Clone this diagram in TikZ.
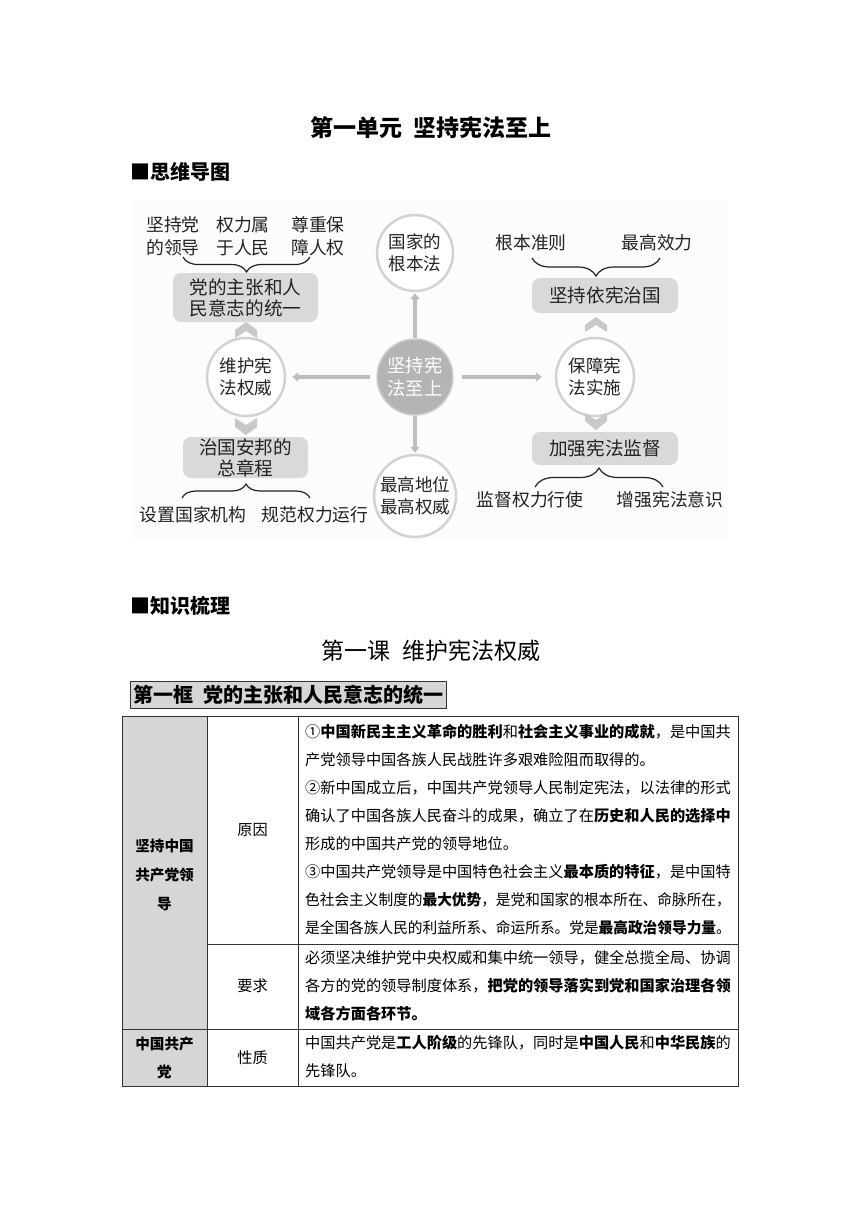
\documentclass[tikz,border=0pt]{standalone}
\usepackage{fontspec}
\newfontfamily\cjk{Noto Sans CJK SC}
\usetikzlibrary{arrows.meta,decorations.pathreplacing}
\definecolor{boxgray}{HTML}{D9D9D9}
\definecolor{chevgray}{HTML}{C8C8C8}
\definecolor{ringgray}{HTML}{D2D2D2}
\definecolor{arrowgray}{HTML}{BDBDBD}
\definecolor{centergray}{HTML}{B4B4B4}
\definecolor{centerring}{HTML}{CFCFCF}
\definecolor{cellgray}{HTML}{D6D6D6}
\definecolor{textdark}{HTML}{222222}
\definecolor{rulegray}{HTML}{333333}
\definecolor{mapbg}{HTML}{FCFCFC}
\newcommand\kbf[1]{{\bfseries #1}}
\begin{document}
\begin{tikzpicture}[x=1pt,y=-1pt,font=\cjk,
  mtext/.style={text=textdark,font=\cjk\fontsize{17.8}{23}\selectfont,align=center,inner sep=0pt},
  mbox/.style={fill=boxgray,rounded corners=8pt,text=textdark,font=\cjk\fontsize{18.6}{21}\selectfont,align=center,inner sep=0pt},
  ring/.style={circle,draw=ringgray,line width=2.5pt,fill=white,inner sep=0pt,text=textdark,font=\cjk\fontsize{17.5}{21.5}\selectfont,align=center},
  garrow/.style={draw=arrowgray,line width=3.5pt,-{Triangle[width=9pt,length=6pt]}},
  chev/.style={fill=chevgray},
  brc/.style={decorate,decoration={brace,amplitude=#1},line width=1.2pt,draw=textdark},
  brcm/.style={decorate,decoration={brace,mirror,amplitude=#1},line width=1.2pt,draw=textdark},
  cell/.style={text=black,font=\cjk\fontsize{15.2}{28}\selectfont,inner sep=0pt},
  cline/.style={cell,anchor=west},
  lbl/.style={text=black,font=\cjk\bfseries\fontsize{14.6}{29}\selectfont,align=center,inner sep=0pt},
  grid/.style={draw=rulegray,line width=1pt}
]
\useasboundingbox (0,0) rectangle (860,1216);
\fill[white] (0,0) rectangle (860,1216);

% headings
\node[font=\cjk\bfseries\fontsize{23}{23}\selectfont,inner sep=0pt] (title) at (431,128) {第一单元\hspace{0.5em}坚持宪法至上};
\node[font=\cjk\bfseries\fontsize{20}{20}\selectfont,anchor=west,inner sep=0pt] (h1) at (130,172) {■思维导图};

% mind map background
\fill[mapbg] (130,200) rectangle (728,540);

% circles
\node[circle,fill=centergray,draw=centerring,line width=1.5pt,minimum size=76pt,inner sep=0pt,text=white,font=\cjk\fontsize{18.3}{23}\selectfont,align=center] (c) at (415,377) {坚持宪\\法至上};
\node[ring,minimum size=76pt] (top) at (415,253) {国家的\\根本法};
\node[ring,minimum size=78pt] (left) at (246,377) {维护宪\\法权威};
\node[ring,minimum size=78pt] (right) at (595,377) {保障宪\\法实施};
\node[ring,minimum size=82pt] (bot) at (415,496) {最高地位\\最高权威};

% arrows
\draw[garrow,shorten >=1pt] (c) -- (top);
\draw[garrow,shorten >=1pt] (c) -- (bot);
\draw[garrow,shorten <=6pt,shorten >=6pt] (c) -- (left);
\draw[garrow,shorten <=8pt,shorten >=13pt] (c) -- (right);

% boxes
\node[mbox,minimum width=145pt,minimum height=49pt] (b1) at (245.5,297.5) {党的主张和人\\民意志的统一};
\node[mbox,minimum width=125pt,minimum height=41pt] (b2) at (245.5,457.5) {治国安邦的\\总章程};
\node[mbox,minimum width=146pt,minimum height=35pt] (b3) at (605,295.5) {坚持依宪治国};
\node[mbox,minimum width=146pt,minimum height=33pt] (b4) at (605,448.5) {加强宪法监督};

% chevrons
\fill[chev] (235,338) -- (235,330) -- (246,322) -- (257,330) -- (257,338) -- (246,331) -- cycle;
\fill[chev] (235,418) -- (246,425) -- (257,418) -- (257,427) -- (246,435) -- (235,427) -- cycle;
\fill[chev] (585,332) -- (585,325) -- (596,317) -- (607,325) -- (607,332) -- (596,325) -- cycle;
\fill[chev] (585,413) -- (596,420) -- (607,413) -- (607,421) -- (596,430) -- (585,421) -- cycle;

% leaf texts
\node[mtext] (t1) at (173,236.5) {坚持党\\的领导};
\node[mtext] (t2) at (243,236.5) {权力属\\于人民};
\node[mtext] (t3) at (318,236.5) {尊重保\\障人权};
\node[mtext] (t4) at (531,243) {根本准则};
\node[mtext] (t5) at (657,243) {最高效力};
\node[mtext] (t6) at (193,515) {设置国家机构};
\node[mtext] (t7) at (315,515) {规范权力运行};
\node[mtext] (t8) at (530,500) {监督权力行使};
\node[mtext] (t9) at (670,500) {增强宪法意识};

% braces
\coordinate (br1a) at (183,257);
\coordinate (br1b) at (310,257);
\draw[brcm=15pt] (br1a) -- (br1b);
\coordinate (br2a) at (532,258);
\coordinate (br2b) at (660,258);
\draw[brcm=18pt] (br2a) -- (br2b);
\coordinate (br3a) at (182,498);
\coordinate (br3b) at (310,498);
\draw[brc=14pt] (br3a) -- (br3b);
\coordinate (br4a) at (535,487);
\coordinate (br4b) at (663,487);
\draw[brc=19pt] (br4a) -- (br4b);

% second section
\node[font=\cjk\bfseries\fontsize{20}{20}\selectfont,anchor=west,inner sep=0pt] (h2) at (130,606) {■知识梳理};
\node[font=\cjk\fontsize{23}{23}\selectfont,inner sep=0pt] (lesson) at (431,651) {第一课\hspace{0.5em}维护宪法权威};
\node[draw=rulegray,line width=1pt,fill=cellgray,minimum width=316pt,minimum height=27pt,inner sep=0pt,font=\cjk\bfseries\fontsize{20}{20}\selectfont] (frame) at (288,694.5) {第一框\hspace{0.5em}党的主张和人民意志的统一};

% table
\fill[cellgray] (122,716) rectangle (207,1086);
\draw[grid] (122,716) rectangle (738,1086);
\draw[grid] (207,716) -- (207,1086);
\draw[grid] (298,716) -- (298,1086);
\draw[grid] (207,944) -- (738,944);
\draw[grid] (122,1029) -- (738,1029);

\node[lbl] (k1) at (164.5,875) {坚持中国\\共产党领\\导};
\node[lbl,font=\cjk\bfseries\fontsize{14.6}{28}\selectfont] (k2) at (164.5,1058) {中国共产\\党};
\node[cell] (r1) at (252.5,830) {原因};
\node[cell] (r2) at (252.5,986) {要求};
\node[cell] (r3) at (252.5,1058) {性质};

\node[cline] (l1) at (305,732) {①\kbf{中国新民主主义革命的胜利}和\kbf{社会主义事业的成就}，是中国共};
\node[cline] (l2) at (305,760) {产党领导中国各族人民战胜许多艰难险阻而取得的。};
\node[cline] (l3) at (305,788) {②新中国成立后，中国共产党领导人民制定宪法，以法律的形式};
\node[cline] (l4) at (305,816) {确认了中国各族人民奋斗的成果，确立了在\kbf{历史和人民的选择中}};
\node[cline] (l5) at (305,844) {形成的中国共产党的领导地位。};
\node[cline] (l6) at (305,872) {③中国共产党领导是中国特色社会主义\kbf{最本质的特征}，是中国特};
\node[cline] (l7) at (305,900) {\scalebox{0.9655}[1]{色社会主义制度的\kbf{最大优势}，是党和国家的根本所在、命脉所在，}};
\node[cline] (l8) at (305,928) {\scalebox{0.9655}[1]{是全国各族人民的利益所系、命运所系。党是\kbf{最高政治领导力量}。}};

\node[cline] (m1) at (305,958) {必须坚决维护党中央权威和集中统一领导，健全总揽全局、协调};
\node[cline] (m2) at (305,986) {各方的党的领导制度体系，\kbf{把党的领导落实到党和国家治理各领}};
\node[cline] (m3) at (305,1014) {\kbf{域各方面各环节。}};

\node[cline] (n1) at (305,1043) {中国共产党是\kbf{工人阶级}的先锋队，同时是\kbf{中国人民}和\kbf{中华民族}的};
\node[cline] (n2) at (305,1071) {先锋队。};
\end{tikzpicture}
\end{document}
